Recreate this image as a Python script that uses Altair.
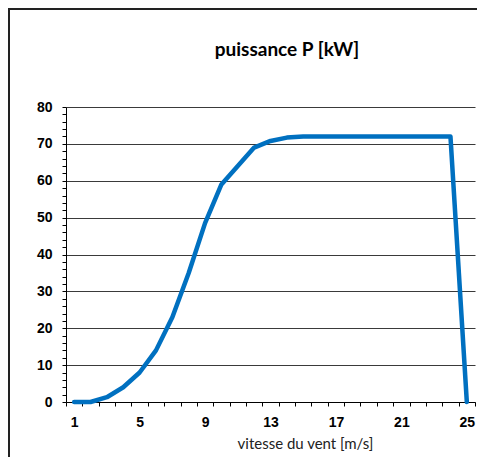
import altair as alt
import pandas as pd

speed = list(range(1, 26))
power = [0, 0, 1.3, 4, 8, 14, 23, 35, 48.5, 59, 64, 69, 70.8, 71.7,
         72, 72, 72, 72, 72, 72, 72, 72, 72, 72, 0]

x_tick_values = [i + 0.5 for i in range(26)]
y_tick_values = list(range(0, 81, 2))
chart_title = "puissance P [kW]"

df = pd.DataFrame({"v": speed, "p": power})

W, H = 409, 295
band = W / 25

base = alt.Chart(df)

border = base.mark_rect(fill=None, stroke="#222222", strokeWidth=2).encode(
    x=alt.value(-57), x2=alt.value(600), y=alt.value(-98), y2=alt.value(600)
)

title_text = alt.Chart(pd.DataFrame({"t": [chart_title]})).mark_text(
    font="Lato", fontWeight="bold", fontSize=19, color="black",
    align="center", baseline="middle"
).encode(x=alt.value(221), y=alt.value(-57), text="t:N")

line = base.mark_line(color="#0070C0", strokeWidth=4.5, strokeJoin="round", strokeCap="round").encode(
    x=alt.X("v:Q",
            scale=alt.Scale(domain=[0.5, 25.5], nice=False, zero=False),
            axis=alt.Axis(values=x_tick_values,
                          labelExpr="(datum.value + 0.5 - 1) % 4 == 0 ? format(datum.value + 0.5, 'd') : ''",
                          labelOffset=band / 2,
                          labelOverlap=False, labelFlush=False, labelBound=False,
                          grid=False, tickSize=4, tickColor="black",
                          domainColor="black", domainWidth=1,
                          labelFont="Liberation Sans", labelFontWeight="bold",
                          labelFontSize=14, labelColor="black", labelPadding=9,
                          title="vitesse du vent [m/s]", titleFont="Lato",
                          titleFontWeight="normal", titleFontSize=15,
                          titleColor="#222222", titlePadding=7, titleX=239)),
    y=alt.Y("p:Q",
            scale=alt.Scale(domain=[0, 80], nice=False),
            axis=alt.Axis(values=y_tick_values,
                          labelExpr="datum.value % 10 == 0 ? datum.label : ''",
                          labelOverlap=False, labelFlush=False,
                          grid=True,
                          gridColor=alt.condition("datum.value % 10 == 0",
                                                  alt.value("#3a3a3a"), alt.value("transparent")),
                          gridWidth=1,
                          tickSize=4, tickColor="black",
                          domainColor="black", domainWidth=1,
                          labelFont="Liberation Sans", labelFontWeight="bold",
                          labelFontSize=14, labelColor="black", labelPadding=10,
                          title=None)),
)

chart = alt.layer(border, line, title_text).properties(
    width=W, height=H,
    autosize=alt.AutoSizeParams(type="none"),
    padding={"left": 58, "top": 99, "right": 2, "bottom": 55},
).configure_view(stroke=None)

chart.save("out.html", embed_options={"renderer": "svg", "actions": False})
